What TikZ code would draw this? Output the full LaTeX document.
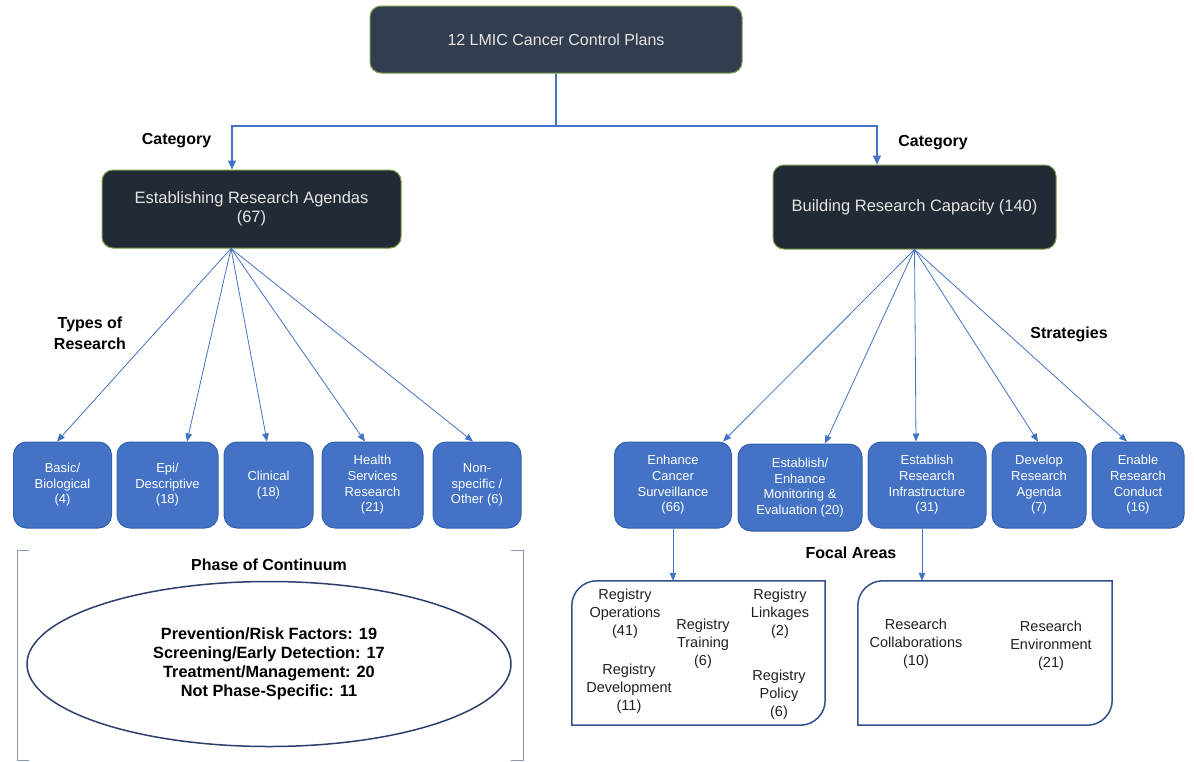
\documentclass[tikz,border=0pt]{standalone}
\usepackage{fontspec}
\setmainfont{Liberation Sans}
\usetikzlibrary{arrows.meta,shapes.geometric}
\definecolor{topfill}{HTML}{323E4F}
\definecolor{catfill}{HTML}{222A35}
\definecolor{boxgreen}{HTML}{78994A}
\definecolor{bluefill}{HTML}{4472C4}
\definecolor{blueborder}{HTML}{3462B0}
\definecolor{linecol}{HTML}{4472C4}
\definecolor{focline}{HTML}{2F528F}
\definecolor{ellline}{HTML}{2E3F6E}
\definecolor{brackcol}{HTML}{8A9BB5}
\begin{document}
\begin{tikzpicture}[x=1pt,y=-1pt,
  darkbox/.style={draw=boxgreen, line width=1pt, rounded corners=11pt, text=white!90!black,
    align=center, font=\fontsize{16.5}{19}\selectfont, inner sep=0pt},
  bluebox/.style={draw=blueborder, line width=1pt, fill=bluefill, rounded corners=13pt,
    text=white, align=center, font=\fontsize{13}{15.6}\selectfont, inner sep=0pt,
    minimum height=86pt},
  lbl/.style={font=\bfseries\fontsize{16}{21}\selectfont, align=center, inner sep=0pt},
  ftext/.style={font=\fontsize{14.5}{18}\selectfont, align=center, text=black!88, inner sep=0pt},
  fan/.style={draw=linecol, line width=0.8pt, -{Triangle[length=8pt,width=6.5pt]}},
  trunk/.style={draw=linecol, line width=1.6pt},
  trunkarrow/.style={trunk, -{Triangle[length=9pt,width=8pt]}},
  fbox/.style={draw=focline, line width=1.5pt},
  brack/.style={draw=brackcol, line width=1pt}
]
\useasboundingbox (0,0) rectangle (1194,761);

% top level
\node[darkbox, fill=topfill, minimum width=372pt, minimum height=67pt, font=\fontsize{16}{19}\selectfont] (top) at (556,39.5) {12 LMIC Cancer Control Plans};
\node[darkbox, fill=catfill, minimum width=299pt, minimum height=78pt] (ra) at (251.5,209) {Establishing Research Agendas\\(67)};
\node[darkbox, fill=catfill, minimum width=283pt, minimum height=84pt] (rc) at (914.5,207) {Building Research Capacity (140)};

\coordinate (j) at (556,126);
\draw[trunk] (top.south) -- (j);
\draw[trunkarrow] (j) -| ([xshift=-19.5pt]ra.north);
\draw[trunkarrow] (j) -| ([xshift=-37.5pt]rc.north);

\node[lbl] (catL) at (176.5,141) {Category};
\node[lbl] (catR) at (933,143) {Category};
\node[lbl] (types) at (90,333) {Types of\\Research};
\node[lbl] (strat) at (1069,334) {Strategies};
\node[lbl] (focal) at (851,553) {Focal Areas};

% types of research
\node[bluebox, minimum width=98pt] (basic) at (62.5,485) {Basic/\\Biological\\(4)};
\node[bluebox, minimum width=101pt] (epi) at (167.5,485) {Epi/\\Descriptive\\(18)};
\node[bluebox, minimum width=89pt] (clin) at (268.5,485) {Clinical\\(18)};
\node[bluebox, minimum width=101pt] (hsr) at (372.5,485) {Health\\Services\\Research\\(21)};
\node[bluebox, minimum width=88pt] (non) at (477,485) {Non-\\specific /\\Other (6)};

\coordinate (raS) at ([xshift=-20.5pt]ra.south);
\draw[fan] (raS) -- ([xshift=-5.5pt]basic.north);
\draw[fan] (raS) -- ([xshift=19.5pt]epi.north);
\draw[fan] (raS) -- ([xshift=-1.5pt]clin.north);
\draw[fan] (raS) -- ([xshift=-7.5pt]hsr.north);
\draw[fan] (raS) -- ([xshift=-4pt]non.north);

% strategies
\node[bluebox, minimum width=117pt] (enh) at (673,485) {Enhance\\Cancer\\Surveillance\\(66)};
\node[bluebox, minimum width=124pt, minimum height=87pt] (mon) at (800,487.5) {Establish/\\Enhance\\Monitoring \&\\Evaluation (20)};
\node[bluebox, minimum width=118pt] (inf) at (927,485) {Establish\\Research\\Infrastructure\\(31)};
\node[bluebox, minimum width=94pt] (dev) at (1039,485) {Develop\\Research\\Agenda\\(7)};
\node[bluebox, minimum width=92pt] (ena) at (1138,485) {Enable\\Research\\Conduct\\(16)};

\draw[fan] (rc.south) -- ([xshift=50pt]enh.north);
\draw[fan] (rc.south) -- ([xshift=25pt]mon.north);
\draw[fan] (rc.south) -- ([xshift=-11pt]inf.north);
\draw[fan] (rc.south) -- ([xshift=-1pt]dev.north);
\draw[fan] (rc.south) -- ([xshift=-11pt]ena.north);

% focal areas
\node[minimum width=253pt, minimum height=144pt, inner sep=0pt] (focL) at (698.5,653) {};
\node[minimum width=254pt, minimum height=144pt, inner sep=0pt] (focR) at (985,653) {};
\draw[fbox] (focL.south west) -- ([yshift=-25pt]focL.north west) arc[start angle=180,end angle=270,radius=25]
  -- (focL.north east) -- ([yshift=25pt]focL.south east) arc[start angle=0,end angle=90,radius=25] -- cycle;
\draw[fbox] (focR.south west) -- ([yshift=-25pt]focR.north west) arc[start angle=180,end angle=270,radius=25]
  -- (focR.north east) -- ([yshift=25pt]focR.south east) arc[start angle=0,end angle=90,radius=25] -- cycle;

\coordinate (infS) at ([xshift=-5pt]inf.south);
\draw[fan] (enh.south) -- (enh.south |- focL.north);
\draw[fan] (infS) -- (infS |- focR.north);

\node[ftext] (rops) at (625,614) {Registry\\Operations\\(41)};
\node[ftext] (rtrain) at (703,644) {Registry\\Training\\(6)};
\node[ftext] (rlink) at (780,614) {Registry\\Linkages\\(2)};
\node[ftext] (rdev) at (629,689) {Registry\\Development\\(11)};
\node[ftext] (rpol) at (779,695) {Registry\\Policy\\(6)};
\node[ftext] (rcol) at (916,644) {Research\\Collaborations\\(10)};
\node[ftext] (renv) at (1051,646) {Research\\Environment\\(21)};

% phase of continuum
\draw[brack] (29,550) -- (17,550) -- (17,760) -- (29,760);
\draw[brack] (511,550) -- (523,550) -- (523,760) -- (511,760);
\node[lbl] (phase) at (269,565) {Phase of Continuum};
\node[draw=ellline, line width=1.5pt, ellipse, minimum width=484pt, minimum height=165pt, inner sep=0pt,
  align=center, font=\bfseries\fontsize{16.3}{19}\selectfont] (ell) at (269,664)
  {Prevention/Risk Factors: 19\\Screening/Early Detection: 17\\Treatment/Management: 20\\Not Phase-Specific: 11};
\end{tikzpicture}
\end{document}
